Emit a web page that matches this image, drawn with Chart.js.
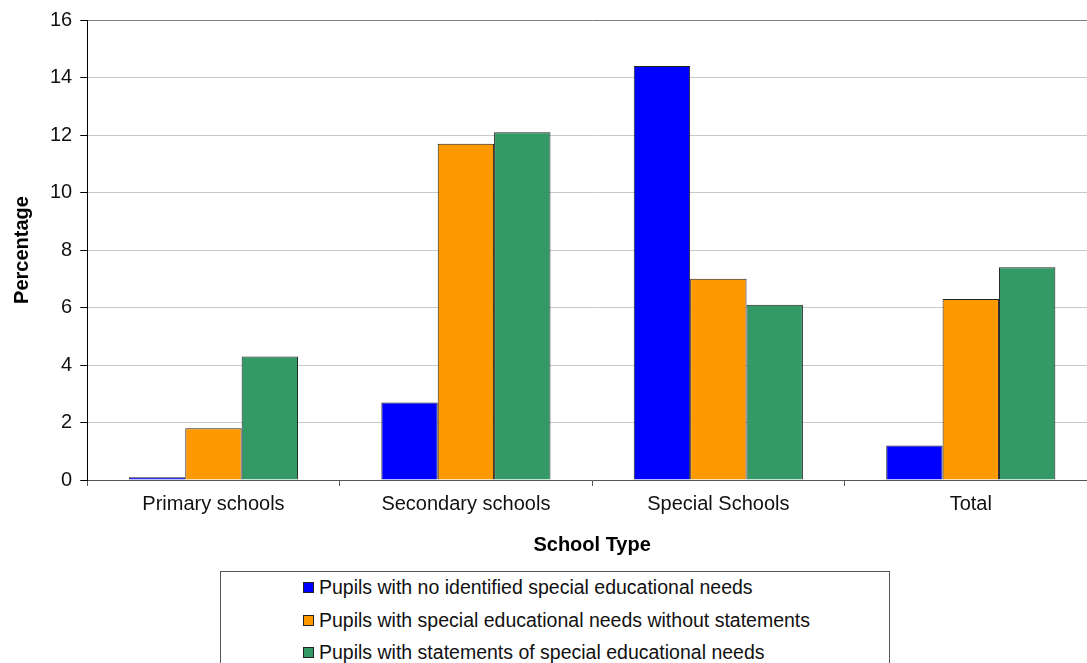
<!DOCTYPE html>
<html>
<head>
<meta charset="utf-8">
<script src="https://cdn.jsdelivr.net/npm/chart.js@4.4.1/dist/chart.umd.min.js"></script>
<style>
    html, body { margin: 0; padding: 0; background: #fff; overflow: hidden; }
    #wrap { position: relative; width: 1100px; height: 663px; }
    #legend {
        position: absolute; left: 220px; top: 571px; width: 670px; height: 120px;
        border: 1px solid #555; box-sizing: border-box; background: #fff;
        font-family: 'Liberation Sans', Arial, sans-serif; font-size: 19.5px; color: #111;
    }
    .item { position: absolute; left: 82px; height: 22px; line-height: 22px; white-space: nowrap; }
    .item span.box {
        display: inline-block; width: 9px; height: 9px; border: 1px solid #222;
        margin-right: 5px; vertical-align: 1px;
    }
</style>
</head>
<body>
<div id="wrap">
    <canvas id="grafico"></canvas>
    <div id="legend"></div>
</div>
<script>
// Dados do gráfico
const categorias = ['Primary schools', 'Secondary schools', 'Special Schools', 'Total'];
const semNecessidades = [0.1, 2.7, 14.4, 1.2];
const semDeclaracao = [1.8, 11.7, 7.0, 6.3];
const comDeclaracao = [4.3, 12.1, 6.1, 7.4];
const nomesSeries = [
    'Pupils with no identified special educational needs',
    'Pupils with special educational needs without statements',
    'Pupils with statements of special educational needs'
];
const cores = ['#0000FF', '#FF9900', '#339966'];

const fonte = "'Liberation Sans', Arial, sans-serif";
const canvas = document.getElementById('grafico');
canvas.width = 1100;
canvas.height = 663;

const grafico = new Chart(canvas, {
    type: 'bar',
    data: {
        labels: categorias,
        datasets: [semNecessidades, semDeclaracao, comDeclaracao].map((valores, i) => ({
            label: nomesSeries[i],
            data: valores,
            backgroundColor: cores[i],
            borderColor: '#222',
            borderWidth: 1,
            categoryPercentage: 0.67,
            barPercentage: 1.0
        }))
    },
    options: {
        responsive: false,
        animation: false,
        layout: { padding: { top: 16, right: 3, bottom: 102, left: 6 } },
        plugins: {
            legend: { display: false },
            tooltip: { enabled: false }
        },
        scales: {
            x: {
                offset: true,
                grid: { drawOnChartArea: false, drawTicks: true, tickLength: 6, tickColor: '#555', offset: true },
                border: { color: '#555', width: 1 },
                ticks: { color: '#111', font: { family: fonte, size: 20 }, padding: 6 },
                title: { display: true, text: 'School Type', color: '#000', font: { family: fonte, size: 20, weight: 'bold' }, padding: { top: 11 } }
            },
            y: {
                min: 0,
                max: 16,
                ticks: { stepSize: 2, color: '#111', font: { family: fonte, size: 20 }, padding: 8 },
                grid: {
                    color: ctx => ctx.tick && ctx.tick.value === 16 ? '#808080' : '#c8c8c8',
                    tickColor: '#000',
                    tickLength: 7
                },
                border: { color: '#000', width: 1 },
                title: { display: true, text: 'Percentage', color: '#000', font: { family: fonte, size: 20, weight: 'bold' }, padding: { bottom: 8 } }
            }
        }
    }
});

// Legenda em HTML
const legenda = document.getElementById('legend');
nomesSeries.forEach((nome, i) => {
    const div = document.createElement('div');
    div.className = 'item';
    div.style.top = (4 + i * 32.5) + 'px';
    div.innerHTML = `<span class="box" style="background:${cores[i]}"></span>${nome}`;
    legenda.appendChild(div);
});
</script>
</body>
</html>
